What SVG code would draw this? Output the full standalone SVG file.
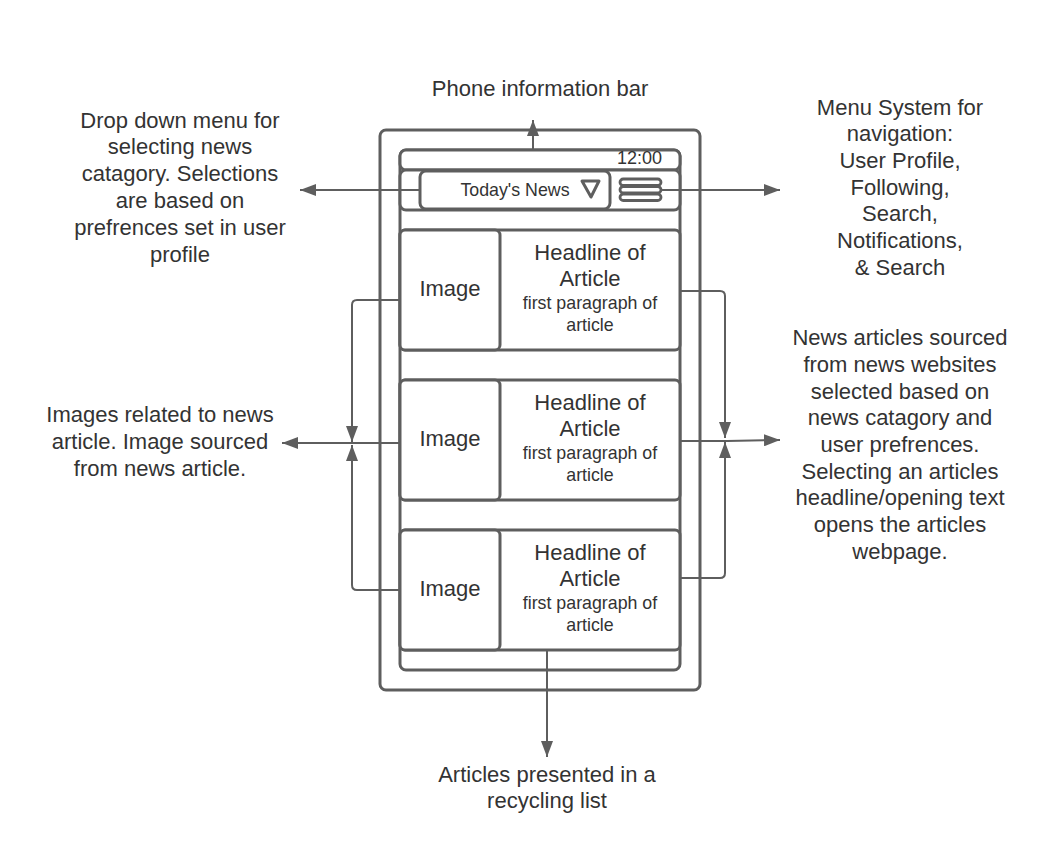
<svg xmlns="http://www.w3.org/2000/svg" width="1060" height="862" viewBox="0 0 1060 862">
<style>
.box{fill:#fff;stroke:#5e5e5e;stroke-width:3}
.ln{fill:none;stroke:#5e5e5e;stroke-width:2}
.t{font-family:"Liberation Sans",Arial,sans-serif;fill:#333;text-anchor:middle}
.l{font-size:22px}
.s{font-size:17.8px}
</style>
<defs>
<marker id="ah" viewBox="0 0 16 12" refX="16" refY="6" markerWidth="16" markerHeight="12" markerUnits="userSpaceOnUse" orient="auto">
<path d="M0,0 L16,6 L0,12 Z" fill="#5e5e5e"/>
</marker>
</defs>
<rect width="1060" height="862" fill="#fff"/>
<g id="phone">
<rect class="box" x="380" y="130" width="320" height="560" rx="6"/>
<rect class="box" x="400" y="150" width="280" height="520" rx="6"/>
</g>
<g id="statusbar">
<rect class="box" x="400" y="150" width="280" height="20" rx="6"/>
<text class="t" x="662" y="164" font-size="18" style="text-anchor:end">12:00</text>
</g>
<g id="navbar">
<rect class="box" x="400" y="170" width="280" height="40" rx="6"/>
</g>
<g id="dropdown">
<rect class="box" x="420" y="171" width="190" height="38" rx="6"/>
<text class="t" x="515" y="196" font-size="17.8">Today's News</text>
<path d="M582,181 L599,181 L591,197 Z" fill="none" stroke="#5e5e5e" stroke-width="3" stroke-linejoin="round"/>
</g>
<g id="menu">
<rect x="620" y="179" width="41" height="6.5" rx="3.25" fill="#fff" stroke="#5e5e5e" stroke-width="2.8"/>
<rect x="620" y="186.5" width="41" height="6.5" rx="3.25" fill="#fff" stroke="#5e5e5e" stroke-width="2.8"/>
<rect x="620" y="194" width="41" height="6.5" rx="3.25" fill="#fff" stroke="#5e5e5e" stroke-width="2.8"/>
</g>
<g id="card1">
<rect class="box" x="400" y="230" width="280" height="120" rx="5"/>
<rect class="box" x="400" y="230" width="100" height="120" rx="5"/>
<text class="t l" x="450" y="296">Image</text>
<text class="t l" x="590" y="260">Headline of</text>
<text class="t l" x="590" y="286">Article</text>
<text class="t s" x="590" y="309">first paragraph of</text>
<text class="t s" x="590" y="331">article</text>
</g>
<g id="card2">
<rect class="box" x="400" y="380" width="280" height="120" rx="5"/>
<rect class="box" x="400" y="380" width="100" height="120" rx="5"/>
<text class="t l" x="450" y="446">Image</text>
<text class="t l" x="590" y="410">Headline of</text>
<text class="t l" x="590" y="436">Article</text>
<text class="t s" x="590" y="459">first paragraph of</text>
<text class="t s" x="590" y="481">article</text>
</g>
<g id="card3">
<rect class="box" x="400" y="530" width="280" height="120" rx="5"/>
<rect class="box" x="400" y="530" width="100" height="120" rx="5"/>
<text class="t l" x="450" y="596">Image</text>
<text class="t l" x="590" y="560">Headline of</text>
<text class="t l" x="590" y="586">Article</text>
<text class="t s" x="590" y="609">first paragraph of</text>
<text class="t s" x="590" y="631">article</text>
</g>
<g id="connectors">
<path class="ln" d="M533,150 L533,120" marker-end="url(#ah)"/>
<path class="ln" d="M420,190 L300,190" marker-end="url(#ah)"/>
<path class="ln" d="M661,190 L780,190" marker-end="url(#ah)"/>
<path class="ln" d="M400,300 L357,300 Q352,300 352,305 L352,442" marker-end="url(#ah)"/>
<path class="ln" d="M400,590 L357,590 Q352,590 352,585 L352,445" marker-end="url(#ah)"/>
<path class="ln" d="M400,443 L282,443" marker-end="url(#ah)"/>
<path class="ln" d="M680,291 L720,291 Q725,291 725,296 L725,438" marker-end="url(#ah)"/>
<path class="ln" d="M680,578 L720,578 Q725,578 725,573 L725,442" marker-end="url(#ah)"/>
<path class="ln" d="M680,441 L727,441 L780,440" marker-end="url(#ah)"/>
<path class="ln" d="M547,650 L547,757" marker-end="url(#ah)"/>
</g>
<g id="label-top">
<text class="t l" x="540" y="96">Phone information bar</text>
</g>
<g id="label-dropdown">
<text class="t l" x="180" y="128">Drop down menu for</text>
<text class="t l" x="180" y="154">selecting news</text>
<text class="t l" x="180" y="181">catagory. Selections</text>
<text class="t l" x="180" y="208">are based on</text>
<text class="t l" x="180" y="235">prefrences set in user</text>
<text class="t l" x="180" y="262">profile</text>
</g>
<g id="label-menu">
<text class="t l" x="900" y="115">Menu System for</text>
<text class="t l" x="900" y="141">navigation:</text>
<text class="t l" x="900" y="168">User Profile,</text>
<text class="t l" x="900" y="195">Following,</text>
<text class="t l" x="900" y="221">Search,</text>
<text class="t l" x="900" y="248">Notifications,</text>
<text class="t l" x="900" y="275">&amp; Search</text>
</g>
<g id="label-images">
<text class="t l" x="160" y="422">Images related to news</text>
<text class="t l" x="160" y="449">article. Image sourced</text>
<text class="t l" x="160" y="476">from news article.</text>
</g>
<g id="label-articles">
<text class="t l" x="900" y="345">News articles sourced</text>
<text class="t l" x="900" y="372">from news websites</text>
<text class="t l" x="900" y="399">selected based on</text>
<text class="t l" x="900" y="425">news catagory and</text>
<text class="t l" x="900" y="452">user prefrences.</text>
<text class="t l" x="900" y="479">Selecting an articles</text>
<text class="t l" x="900" y="505">headline/opening text</text>
<text class="t l" x="900" y="532">opens the articles</text>
<text class="t l" x="900" y="559">webpage.</text>
</g>
<g id="label-bottom">
<text class="t l" x="547" y="782">Articles presented in a</text>
<text class="t l" x="547" y="808">recycling list</text>
</g>
</svg>
